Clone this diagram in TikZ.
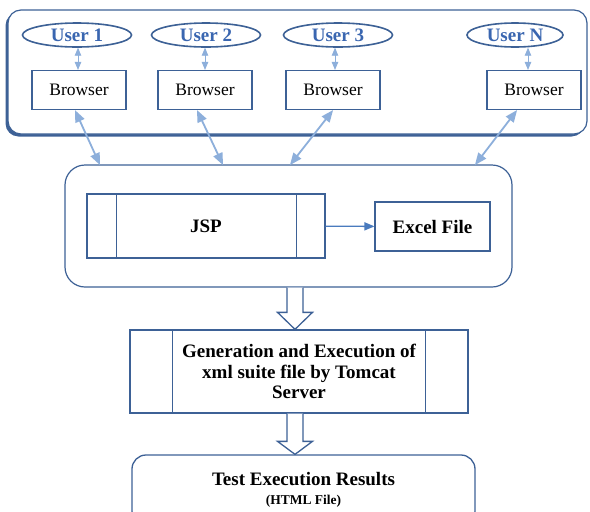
\documentclass[tikz,border=0pt]{standalone}
\usepackage{fontspec}
\setmainfont{Liberation Serif}
\usetikzlibrary{arrows, shapes.geometric, shadows, calc}

\definecolor{boxblue}{HTML}{3D6196}
\definecolor{linkblue}{HTML}{8DAFDB}
\definecolor{userblue}{HTML}{3A66B0}
\definecolor{flowblue}{HTML}{4A7BBE}

\begin{document}
\begin{tikzpicture}[x=1pt, y=-1pt,
  panel/.style={draw=boxblue, line width=1.2pt, fill=white, rectangle},
  user/.style={ellipse, draw=boxblue, line width=1.6pt, minimum width=109pt, minimum height=24pt,
    inner sep=0pt, text=userblue, font=\fontsize{19}{21}\selectfont\bfseries},
  browser/.style={draw=boxblue, line width=1.3pt, minimum width=94pt, minimum height=39pt,
    inner sep=0pt, font=\fontsize{17.5}{20}\selectfont},
  procbox/.style={draw=boxblue, line width=1.3pt, inner sep=0pt, font=\fontsize{19}{20.5}\selectfont\bfseries},
  link/.style={line width=0.8pt, linkblue, <->, >= triangle 45},
  weblink/.style={line width=1.8pt, linkblue, <->, >= triangle 45},
  bigarrow/.style={draw=boxblue, line width=1.3pt, fill=white, line join=miter}]

\clip (0,0) rectangle (590,512);
\useasboundingbox (0,0) rectangle (590,512);

%%%%%%%%%%%%%%%%%%%
% The clients

\node[panel, rounded corners=13pt, minimum width=579pt, minimum height=124pt,
  drop shadow={shadow xshift=-2.5pt, shadow yshift=-2.5pt, fill=boxblue, opacity=1}]
  (clients) at (297.5,72) {};

\node[user] (u1) at (77,35) {User 1};
\node[user] (u2) at (206,35) {User 2};
\node[user] (u3) at (338,35) {User 3};
\node[user, minimum width=96pt] (uN) at (515,35) {User N};

\node[browser] (b1) at (79,90) {Browser};
\node[browser] (b2) at (205,90) {Browser};
\node[browser] (b3) at (333,90) {Browser};
\node[browser] (bN) at (534,90) {Browser};

\draw[link] ([xshift=-1pt]b1.north) -- ([xshift=-1pt]b1.north |- u1.south);
\draw[link] (b2.north) -- (b2.north |- u2.south);
\draw[link] ([xshift=2pt]b3.north) -- ([xshift=2pt]b3.north |- u3.south);
\draw[link] ([xshift=-6pt]bN.north) -- ([xshift=-6pt]bN.north |- uN.south);

%%%%%%%%%%%%%%%%%%%
% The web layer

\node[panel, rounded corners=20pt, minimum width=447pt, minimum height=122pt] (web) at (288.5,226) {};

\coordinate (w1) at (100,165);
\coordinate (w2) at (223,165);
\coordinate (w3) at (290,165);
\coordinate (w4) at (475,165);

\draw[weblink] ([xshift=-4pt]b1.south) -- (w1);
\draw[weblink] ([xshift=-8pt]b2.south) -- (w2);
\draw[weblink] (b3.south) -- (w3);
\draw[weblink] ([xshift=-17pt]bN.south) -- (w4);

\node[procbox, minimum width=238pt, minimum height=64pt] (jsp) at (206,226) {JSP};
\draw[boxblue, line width=1.3pt] ([xshift=30pt]jsp.north west) -- ([xshift=30pt]jsp.south west);
\draw[boxblue, line width=1.3pt] ([xshift=-29pt]jsp.north east) -- ([xshift=-29pt]jsp.south east);

\node[procbox, minimum width=115pt, minimum height=49pt] (excel) at (432.5,226.5) {Excel File};

\draw[flowblue, line width=1.3pt, ->, >= triangle 45] (jsp) -- (excel);

%%%%%%%%%%%%%%%%%%%
% Suite generation and results

\node[procbox, minimum width=338pt, minimum height=83pt, align=center] (gen) at (299,371.5)
  {Generation and Execution of\\xml suite file by Tomcat\\Server};
\draw[boxblue, line width=1.3pt] ([xshift=43pt]gen.north west) -- ([xshift=43pt]gen.south west);
\draw[boxblue, line width=1.3pt] ([xshift=-43pt]gen.north east) -- ([xshift=-43pt]gen.south east);

\node[procbox, rounded corners=14pt, minimum width=343pt, minimum height=70pt, align=center] (res) at (303.5,490)
  {Test Execution Results\\[-1pt]{\fontsize{13.5}{15}\selectfont(HTML File)}};

\coordinate (ax) at (295,0);
\draw[bigarrow] ($(web.south -| ax)+(-8,0)$) -- ($(gen.north -| ax)+(-8,-17)$) -- ($(gen.north -| ax)+(-17.5,-17)$)
  -- (gen.north -| ax) -- ($(gen.north -| ax)+(17.5,-17)$) -- ($(gen.north -| ax)+(8,-17)$) -- ($(web.south -| ax)+(8,0)$);
\draw[bigarrow] ($(gen.south -| ax)+(-8,0)$) -- ($(res.north -| ax)+(-8,-13)$) -- ($(res.north -| ax)+(-17.5,-13)$)
  -- (res.north -| ax) -- ($(res.north -| ax)+(17.5,-13)$) -- ($(res.north -| ax)+(8,-13)$) -- ($(gen.south -| ax)+(8,0)$);

\end{tikzpicture}
\end{document}
